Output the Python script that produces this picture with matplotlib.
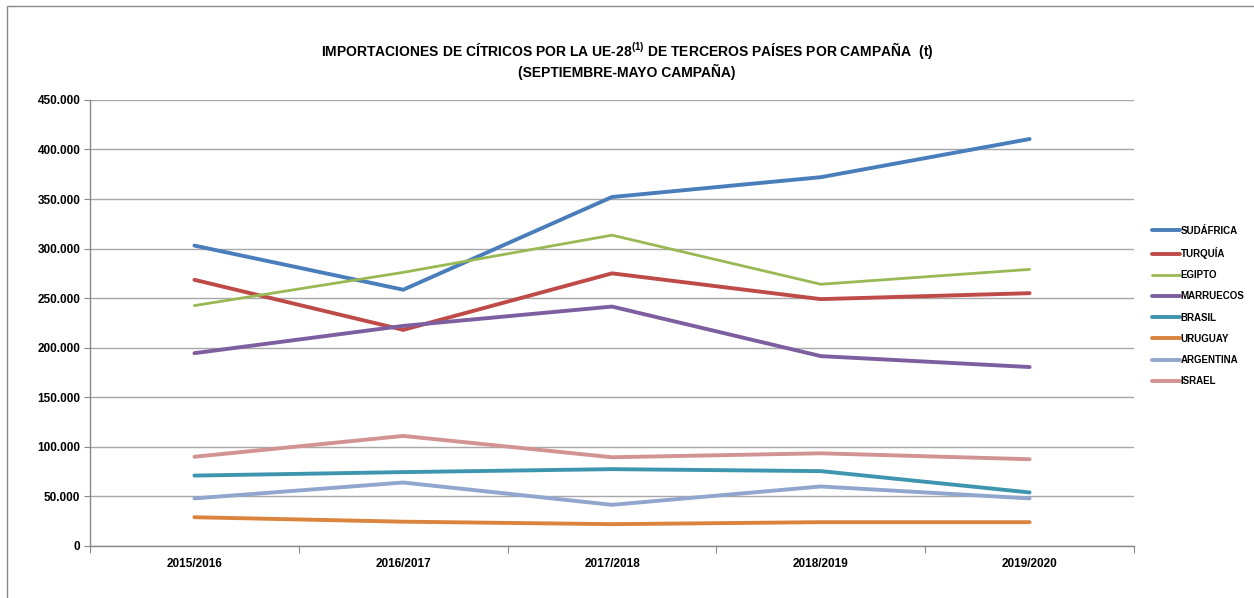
import numpy as np
import matplotlib
matplotlib.use("Agg")
import matplotlib.pyplot as plt
from matplotlib.patches import Rectangle
from matplotlib.ticker import FuncFormatter

plt.rcParams["font.family"] = ["Liberation Sans", "DejaVu Sans"]
plt.rcParams["mathtext.fontset"] = "custom"
plt.rcParams["mathtext.rm"] = "Liberation Sans"
plt.rcParams["mathtext.bf"] = "Liberation Sans:bold"

# campaigns (Sept-May), tonnes
campaigns = ["2015/2016", "2016/2017", "2017/2018", "2018/2019", "2019/2020"]

sudafrica = [303000, 258500, 352000, 372000, 410500]
turquia = [268500, 218000, 275000, 249000, 255000]
egipto = [242500, 276000, 313500, 264000, 279000]
marruecos = [194500, 222000, 241500, 191500, 180500]
brasil = [71000, 74500, 77500, 75500, 54000]
uruguay = [29000, 24500, 22000, 24000, 24000]
argentina = [48000, 64000, 41500, 60000, 48000]
israel = [90000, 111000, 89500, 93500, 87500]

series = [
    ("SUDÁFRICA", sudafrica, "#4A7EBB", 2.8),
    ("TURQUÍA", turquia, "#BE4B48", 2.8),
    ("EGIPTO", egipto, "#98B954", 2.0),
    ("MARRUECOS", marruecos, "#7D5FA0", 2.8),
    ("BRASIL", brasil, "#3E96AE", 2.8),
    ("URUGUAY", uruguay, "#DB843D", 2.8),
    ("ARGENTINA", argentina, "#90A6CD", 2.8),
    ("ISRAEL", israel, "#D29393", 2.8),
]

fig = plt.figure(figsize=(12.54, 5.98), dpi=100)
ax = fig.add_axes([0.0718, 0.087, 0.8325, 0.746])

x = np.arange(len(campaigns))
for name, vals, color, lw in series:
    ax.plot(x, vals, color=color, linewidth=lw, label=name,
            solid_capstyle="round", solid_joinstyle="miter")

ax.set_xlim(-0.5, len(campaigns) - 0.5)
ax.set_ylim(0, 450000)
ax.set_yticks(np.arange(0, 450001, 50000))
ax.yaxis.set_major_formatter(FuncFormatter(lambda v, p: f"{int(v):,}".replace(",", ".")))
ax.set_xticks(x)
ax.set_xticklabels(campaigns)
ax.set_xticks(np.arange(-0.5, len(campaigns), 1.0), minor=True)
ax.tick_params(axis="x", which="major", length=0, pad=9, labelsize=8.5)
ax.tick_params(axis="x", which="minor", length=5, color="#888888", width=0.8)
ax.tick_params(axis="y", length=4, color="#888888", width=0.8, labelsize=8.5, pad=3)
for lab in ax.get_xticklabels() + ax.get_yticklabels():
    lab.set_fontweight("bold")

ax.grid(axis="y", color="#A8A8A8", linewidth=1.0)
ax.set_axisbelow(True)
for s in ["top", "right"]:
    ax.spines[s].set_visible(False)
for s in ["left", "bottom"]:
    ax.spines[s].set_color("#888888")
    ax.spines[s].set_linewidth(1.0)

fig.text(0.5, 0.915,
         r"IMPORTACIONES DE CÍTRICOS POR LA UE-28$^{\mathbf{(1)}}$ DE TERCEROS PAÍSES POR CAMPAÑA  (t)",
         ha="center", va="center", fontsize=10, fontweight="bold")
fig.text(0.5, 0.88, "(SEPTIEMBRE-MAYO CAMPAÑA)",
         ha="center", va="center", fontsize=10, fontweight="bold")

leg = fig.legend(loc="upper left", bbox_to_anchor=(0.912, 0.637), frameon=False,
                 prop={"size": 7, "weight": "bold"}, handlelength=2.8,
                 handletextpad=0.1, labelspacing=1.15)

# outer chart frame
fig.patches.append(Rectangle((7 / 1254, -0.2), 1.2, 1.2 - 6 / 598,
                             transform=fig.transFigure, fill=False,
                             edgecolor="#888888", linewidth=1.0))

fig.savefig("out.png", dpi=100)
